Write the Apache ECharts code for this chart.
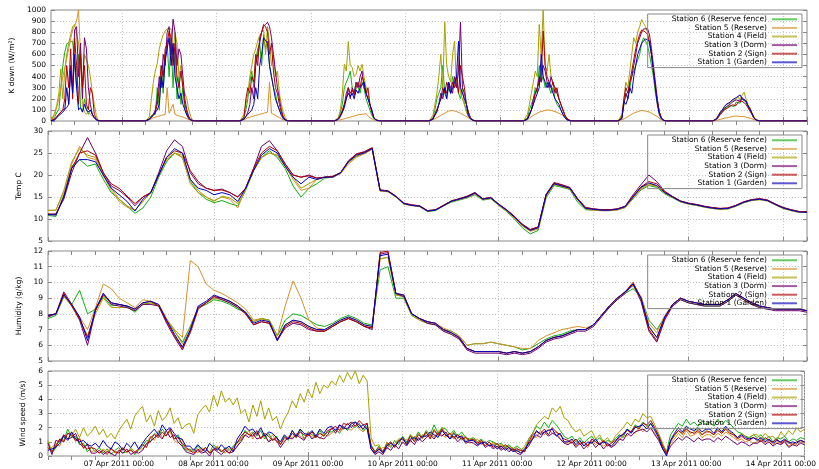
<!DOCTYPE html>
<html><head><meta charset="utf-8">
<script src="https://cdn.jsdelivr.net/npm/echarts@6/dist/echarts.min.js"></script>
<style>html,body{margin:0;padding:0;background:#fff}#c{width:819px;height:469px}</style>
</head><body><div id="c"></div>
<script>
const stations = ['Station 6 (Reserve fence)','Station 5 (Reserve)','Station 4 (Field)','Station 3 (Dorm)','Station 2 (Sign)','Station 1 (Garden)'];
const colors = ['#10b010','#d8902a','#a8a000','#700070','#b00000','#0000c0'];
const monthNames = ['Jan','Feb','Mar','Apr','May','Jun','Jul','Aug','Sep','Oct','Nov','Dec'];
const yNames = ['K down (W/m\u00b2)','Temp C','Humidity (g/kg)','Wind speed (m/s)'];
const yMin = [0,5,5,0], yMax = [1000,30,12,6], yStep = [100,5,1,1];

// K down: 8 days x 26 half-hour values (06:00 .. 18:30)
const kdS6 = [
0,5,40,80,100,300,500,620,690,710,720,720,730,300,600,120,80,200,100,60,100,60,30,10,0,0,
0,0,20,50,55,60,300,100,500,250,600,700,400,750,300,650,200,400,150,300,100,60,30,10,0,0,
0,0,30,100,200,350,450,300,550,650,700,500,780,650,720,500,400,300,250,150,100,60,30,10,0,0,
0,0,30,80,150,300,350,390,450,300,250,350,300,250,350,300,200,150,100,50,20,5,0,0,0,0,
0,0,30,100,200,250,300,500,250,200,300,250,400,300,350,250,200,300,150,100,50,20,5,0,0,0,
0,0,30,100,150,200,300,250,500,350,400,300,350,300,250,300,200,150,150,100,60,30,10,0,0,0,
0,0,40,150,250,200,300,400,450,500,510,600,700,750,720,680,600,500,400,250,150,60,20,5,0,0,
0,0,15,40,60,80,100,120,110,140,150,130,170,180,160,200,190,170,130,100,70,30,10,0,0,0];
const kdS5 = [
0,10,60,130,200,300,400,480,560,650,740,820,860,900,1000,600,150,80,60,90,60,40,30,15,5,0,
0,0,10,20,30,35,40,45,50,55,60,300,70,60,150,60,50,45,40,35,30,20,10,5,0,0,
0,0,10,20,30,35,40,45,50,55,60,65,70,75,80,350,70,60,50,40,30,20,10,5,0,0,
0,0,5,10,15,20,25,30,35,40,45,50,55,55,60,55,65,50,30,20,10,5,0,0,0,0,
0,0,10,20,30,40,50,60,70,80,90,100,95,90,85,80,70,60,50,40,30,20,10,5,0,0,
0,0,10,20,40,50,60,70,80,85,90,95,100,100,95,90,85,80,70,60,50,40,25,10,0,0,
0,0,10,20,30,40,50,60,70,80,85,90,95,100,90,85,80,70,60,50,40,25,10,5,0,0,
0,0,5,10,15,20,25,30,30,35,40,35,45,50,40,45,40,35,30,25,20,10,5,0,0,0];
const kdS4 = [
0,15,80,150,250,470,200,450,600,700,780,850,870,880,700,500,350,600,550,500,400,250,150,50,5,0,
0,0,40,200,350,450,520,650,720,780,810,830,840,830,600,800,700,400,500,300,250,200,100,40,0,0,
0,0,60,150,250,400,500,600,650,720,770,800,820,600,850,700,500,600,400,450,250,150,80,30,0,0,
0,0,30,100,250,510,450,715,500,480,400,420,500,450,510,400,300,250,150,80,30,10,0,0,0,0,
0,0,50,150,250,400,600,300,890,500,400,350,600,720,300,500,250,200,150,80,40,20,5,0,0,0,
0,0,60,150,250,350,450,400,870,600,1000,500,450,600,400,350,300,250,200,150,100,60,30,10,0,0,
0,0,60,200,350,300,450,600,750,700,800,850,915,880,850,800,700,600,450,300,180,80,30,10,0,0,
0,0,20,50,80,100,120,150,140,160,180,170,200,220,190,230,260,200,150,120,80,40,15,5,0,0];
const kdS3 = [
0,0,20,40,60,80,100,100,120,150,500,300,820,850,400,700,200,750,650,300,150,60,30,10,0,0,
0,0,20,40,60,100,200,400,300,600,500,800,850,600,918,800,500,650,600,400,200,100,40,10,0,0,
0,0,20,40,80,150,300,200,500,600,700,800,850,870,890,850,750,600,450,300,200,100,40,10,0,0,
0,0,20,50,80,150,250,300,200,300,250,350,300,400,450,300,250,200,150,80,30,10,0,0,0,0,
0,0,20,60,100,150,250,200,300,250,350,300,250,400,300,450,890,300,250,150,80,30,10,0,0,0,
0,0,20,60,100,200,250,300,400,350,500,450,350,300,400,330,300,250,200,150,100,50,20,5,0,0,
0,0,30,150,250,200,350,400,500,600,700,750,800,830,820,830,780,650,500,350,200,80,30,5,0,0,
0,0,15,40,70,90,110,130,120,150,170,160,190,200,180,210,200,180,140,110,70,30,10,0,0,0];
const kdS2 = [
0,0,20,40,60,80,100,200,500,300,650,200,750,500,150,600,300,500,150,100,300,250,60,20,0,0,
0,0,20,40,60,80,150,300,500,400,650,700,810,750,500,700,400,300,450,300,150,80,30,10,0,0,
0,0,30,200,300,250,400,350,600,500,750,800,870,850,800,600,700,450,300,250,150,80,30,10,0,0,
0,0,20,50,100,150,200,300,250,280,230,300,350,300,400,350,250,300,150,80,30,10,0,0,0,0,
0,0,20,60,100,150,200,300,250,350,300,250,350,300,400,250,500,400,300,150,80,30,10,0,0,0,
0,0,20,60,100,150,250,300,350,400,810,500,400,350,300,350,250,300,200,150,100,50,20,5,0,0,
0,0,30,200,300,250,350,450,550,650,720,780,820,830,800,780,700,600,450,300,180,80,30,5,0,0,
0,0,15,35,60,80,100,110,120,130,145,150,140,170,160,180,170,150,120,90,60,25,10,0,0,0];
const kdS1 = [
0,0,10,30,50,60,80,100,300,150,450,250,600,300,100,120,80,150,100,80,100,60,30,10,0,0,
0,0,15,30,50,80,100,150,400,300,550,650,750,500,700,400,300,200,250,150,100,50,20,5,0,0,
0,0,15,40,60,80,100,150,300,200,500,600,750,760,700,500,400,300,200,150,100,50,20,5,0,0,
0,0,15,40,80,120,200,250,220,250,200,280,250,300,300,350,250,200,145,100,30,10,0,0,0,0,
0,0,15,50,80,150,200,250,300,200,350,250,300,350,400,720,300,250,200,150,50,20,5,0,0,0,
0,0,15,50,100,150,200,250,300,600,400,350,300,350,300,250,200,200,150,100,60,30,10,0,0,0,
0,0,20,175,150,200,300,250,400,500,600,650,700,720,740,750,720,600,450,300,150,60,20,5,0,0,
0,0,20,50,80,100,130,150,140,170,190,180,210,220,235,200,190,180,140,110,70,30,10,0,0,0];

// Temperature: 2-hourly from 06 Apr 06:00
const tS6 = [10.8,10.6,15.5,22.0,23.5,22.0,22.5,19.0,16.0,14.5,12.9,11.3,
12.5,15.0,19.5,23.0,25.0,24.0,18.5,16.0,14.5,13.7,14.2,13.5,
13.0,16.5,21.0,24.0,25.5,24.0,21.5,17.5,15.0,17.0,18.0,19.3,
19.5,20.3,23.0,24.3,25.0,26.0,16.4,16.2,15.0,13.4,13.1,12.8,
11.7,11.9,12.9,13.8,14.3,14.8,15.5,14.3,14.6,13.1,11.7,10.0,
8.0,6.6,7.4,14.8,17.6,17.2,16.7,13.8,12.1,12.0,11.9,11.9,
12.1,12.6,14.6,16.6,17.6,17.2,15.7,14.8,13.9,13.4,13.1,12.7,
12.4,12.2,12.3,12.9,13.7,14.2,14.4,14.1,13.2,12.4,11.9,11.5,11.5];
const tS5 = [11.9,12.0,16.0,22.5,26.5,24.0,23.5,19.8,16.5,14.0,12.7,12.0,
14.0,16.0,20.0,23.5,25.0,24.0,18.0,16.0,15.0,14.2,15.0,14.5,
12.5,17.0,21.0,24.0,25.0,24.5,22.0,19.0,16.5,17.0,19.0,19.5,
19.5,20.3,22.5,24.0,24.8,25.8,16.3,16.2,15.0,13.4,13.0,12.9,
11.8,12.0,13.0,14.0,14.4,14.9,15.7,14.4,14.7,13.2,11.8,10.2,
8.4,7.2,7.7,15.2,17.8,17.4,16.8,14.3,12.3,12.0,11.9,11.9,
12.0,12.6,14.8,16.8,17.8,17.4,15.9,14.9,13.9,13.4,13.1,12.7,
12.4,12.2,12.3,12.9,13.7,14.2,14.4,14.1,13.2,12.4,11.9,11.5,11.5];
const tS4 = [12.0,12.0,16.5,23.0,26.0,24.5,24.0,20.0,17.0,14.5,13.0,12.0,
14.0,16.0,20.0,23.5,25.0,24.5,19.0,16.5,15.0,14.0,15.2,14.8,
13.5,17.0,21.0,24.0,25.0,24.5,22.0,19.5,17.0,18.0,19.0,19.5,
19.5,20.5,22.8,24.2,25.0,26.0,16.5,16.3,15.0,13.5,13.1,12.9,
11.8,12.0,13.0,14.0,14.5,15.0,15.8,14.5,14.8,13.3,12.0,10.5,
8.7,7.4,8.0,15.5,18.0,17.5,17.0,14.5,12.5,12.2,12.0,12.0,
12.2,12.8,15.0,17.0,18.0,17.5,16.0,15.0,14.0,13.5,13.2,12.8,
12.5,12.3,12.4,13.0,13.8,14.3,14.5,14.2,13.3,12.5,12.0,11.6,11.6];
const tS3 = [11.0,11.2,14.5,20.5,25.0,28.5,25.0,20.5,17.5,16.5,15.0,13.0,
15.0,16.0,20.5,25.5,28.0,26.5,20.5,18.0,17.0,16.5,16.8,16.0,
15.0,17.0,21.5,26.5,27.8,25.5,22.5,20.0,19.5,20.0,19.3,19.5,
19.7,20.5,23.2,24.8,25.3,26.2,16.6,16.4,15.2,13.6,13.2,13.0,
11.9,12.1,13.1,14.1,14.6,15.2,16.0,14.6,14.9,13.4,12.1,10.6,
8.8,7.6,8.2,15.6,18.3,17.8,17.2,14.6,12.6,12.3,12.1,12.1,
12.3,12.9,15.5,17.8,20.0,18.5,16.3,15.1,14.1,13.6,13.3,12.9,
12.6,12.4,12.5,13.1,13.9,14.4,14.6,14.3,13.4,12.6,12.1,11.7,11.6];
const tS2 = [11.2,11.0,15.0,21.5,25.0,25.5,24.5,20.5,18.0,17.0,15.2,13.5,
15.0,16.0,20.0,24.0,25.5,25.0,21.0,18.5,17.0,16.5,16.6,16.0,
15.0,17.0,21.5,25.0,26.5,25.5,22.5,20.0,19.5,19.8,19.3,19.5,
19.7,20.5,23.2,24.7,25.2,26.2,16.6,16.4,15.2,13.6,13.2,13.0,
11.9,12.1,13.1,14.1,14.6,15.1,16.0,14.6,14.9,13.4,12.1,10.6,
8.8,7.6,8.2,15.6,18.2,17.7,17.1,14.6,12.6,12.3,12.1,12.1,
12.3,12.9,15.2,17.3,18.5,18.0,16.2,15.1,14.1,13.6,13.3,12.9,
12.6,12.4,12.5,13.1,13.9,14.4,14.6,14.3,13.4,12.6,12.1,11.7,11.6];
const tS1 = [11.0,10.9,15.0,21.5,23.5,23.5,23.0,20.0,17.0,15.5,14.0,11.8,
14.5,16.0,20.0,24.0,26.0,25.0,19.0,17.0,16.5,15.5,16.0,15.5,
14.0,17.0,21.0,24.5,26.0,25.0,22.0,19.5,18.0,19.5,19.0,19.5,
19.5,20.5,23.0,24.5,25.0,26.0,16.5,16.3,15.1,13.5,13.1,12.9,
11.8,12.0,13.0,14.0,14.5,15.0,15.9,14.5,14.8,13.3,12.0,10.4,
8.6,7.4,8.0,15.4,18.0,17.5,17.0,14.4,12.4,12.2,12.0,12.0,
12.2,12.8,15.0,17.2,18.2,17.6,16.0,15.0,14.0,13.5,13.2,12.8,
12.5,12.3,12.4,13.0,13.8,14.3,14.5,14.2,13.3,12.5,12.0,11.6,11.5];

// Humidity: 2-hourly from 06 Apr 06:00
const hS6 = [7.7,7.9,9.1,8.6,9.5,8.0,8.3,9.1,8.5,8.6,8.45,8.1,
8.6,8.7,8.5,7.6,6.9,6.2,7.2,8.4,8.6,8.9,8.8,8.6,
8.3,8.1,7.5,7.7,7.6,6.6,7.6,8.0,7.9,7.6,7.3,7.2,
7.4,7.7,7.9,7.7,7.4,7.3,10.8,11.0,9.0,9.0,7.9,7.6,
7.4,7.3,7.0,6.9,6.6,6.0,6.1,6.1,6.2,6.1,6.0,5.9,
5.7,5.8,6.1,6.4,6.6,6.7,6.9,7.0,7.0,7.3,7.9,8.4,
8.9,9.3,9.6,9.1,7.6,7.0,7.8,8.5,8.9,8.7,8.6,8.5,
8.5,8.5,8.8,9.2,8.9,8.6,8.4,8.3,8.3,8.3,8.3,8.3,8.2];
const hS5 = [7.9,8.0,9.2,8.6,7.8,7.0,8.4,9.9,9.6,9.0,8.7,8.4,
8.9,8.8,8.6,7.7,7.0,6.5,11.4,11.0,9.9,9.5,9.3,9.0,
8.7,8.3,7.6,7.7,7.5,6.6,8.5,10.1,9.0,7.6,7.1,7.0,
7.3,7.6,7.8,7.6,7.3,7.2,11.5,11.6,9.2,9.1,8.0,7.7,
7.5,7.4,7.1,6.9,6.6,6.0,6.1,6.1,6.2,6.1,6.0,5.9,
5.8,5.8,6.3,6.6,6.8,7.0,7.1,7.2,7.1,7.3,7.9,8.5,
9.0,9.4,9.8,9.1,7.4,6.8,7.9,8.6,9.0,8.8,8.7,8.6,
8.6,8.6,8.9,9.3,9.0,8.7,8.5,8.4,8.3,8.3,8.3,8.3,8.2];
const hS4 = [7.9,8.0,9.1,8.5,7.6,6.6,8.0,9.0,8.4,8.4,8.4,8.2,
8.6,8.7,8.5,7.6,6.9,6.1,7.2,8.4,8.7,9.0,8.9,8.7,
8.4,8.1,7.5,7.7,7.6,6.6,7.3,7.6,7.5,7.2,7.0,6.9,
7.2,7.5,7.7,7.5,7.2,7.1,11.5,11.6,9.2,9.1,7.9,7.6,
7.4,7.3,6.9,6.7,6.4,5.8,5.6,5.6,5.6,5.6,5.5,5.6,
5.5,5.6,5.9,6.3,6.5,6.6,6.8,7.0,7.0,7.3,7.9,8.5,
9.0,9.4,9.8,8.9,7.1,6.5,7.8,8.6,9.0,8.8,8.7,8.6,
8.6,8.6,8.9,9.2,8.9,8.6,8.5,8.4,8.3,8.3,8.3,8.3,8.2];
const hS3 = [7.8,8.0,9.4,8.6,7.6,6.0,8.2,9.3,8.6,8.5,8.4,8.2,
8.6,8.6,8.5,7.4,6.5,5.7,6.9,8.4,8.7,9.1,8.9,8.7,
8.4,8.0,7.3,7.5,7.4,6.3,7.1,7.4,7.3,7.0,6.9,6.9,
7.2,7.5,7.7,7.5,7.2,7.0,11.8,11.9,9.3,9.1,8.0,7.7,
7.4,7.3,6.9,6.7,6.4,5.7,5.5,5.5,5.5,5.5,5.4,5.5,
5.4,5.5,5.8,6.2,6.4,6.5,6.7,6.9,6.9,7.2,7.8,8.4,
8.9,9.3,9.9,8.8,6.9,6.2,7.6,8.5,8.9,8.7,8.6,8.5,
8.5,8.5,8.8,9.2,8.9,8.6,8.4,8.3,8.2,8.2,8.2,8.2,8.1];
const hS2 = [7.9,8.0,9.3,8.5,7.7,6.5,8.2,9.2,8.7,8.6,8.5,8.3,
8.7,8.8,8.5,7.5,6.6,5.8,6.8,8.3,8.7,9.1,9.0,8.8,
8.5,8.0,7.3,7.5,7.4,6.4,7.2,7.5,7.4,7.1,6.9,6.9,
7.2,7.5,7.7,7.5,7.2,7.1,11.9,12.0,9.3,9.2,8.0,7.7,
7.5,7.4,7.0,6.8,6.5,5.8,5.6,5.6,5.6,5.6,5.5,5.6,
5.5,5.6,5.9,6.3,6.5,6.6,6.8,7.0,7.0,7.3,7.9,8.5,
9.0,9.4,10.0,9.0,7.0,6.3,7.7,8.6,9.0,8.8,8.7,8.6,
8.6,8.6,8.9,9.3,9.0,8.7,8.5,8.4,8.3,8.3,8.3,8.3,8.2];
const hS1 = [7.9,8.0,9.2,8.6,7.8,6.3,8.3,9.3,8.7,8.6,8.5,8.3,
8.7,8.8,8.6,7.6,6.7,5.9,7.0,8.5,8.8,9.2,9.0,8.8,
8.5,8.1,7.4,7.6,7.5,6.3,7.3,7.6,7.5,7.2,7.0,7.0,
7.3,7.6,7.8,7.6,7.3,7.2,11.7,11.8,9.3,9.2,8.0,7.7,
7.5,7.4,7.0,6.8,6.5,5.8,5.6,5.6,5.6,5.6,5.5,5.6,
5.5,5.6,5.9,6.3,6.5,6.6,6.8,7.0,7.0,7.3,7.9,8.5,
9.0,9.4,9.9,9.0,7.2,6.5,7.8,8.6,9.0,8.8,8.7,8.6,
8.6,8.6,8.9,9.3,9.0,8.7,8.5,8.4,8.3,8.3,8.3,8.3,8.2];

// Wind speed: hourly from 06 Apr 06:00
const wS6 = [1.0,0.2,0.6,1.2,1.1,1.9,1.3,1.4,0.8,0.9,0.3,0.6,
0.3,0.6,0.2,0.5,0.1,0.4,0.6,0.2,0.3,0.5,0.1,0.4,
0.7,1.1,1.0,1.6,1.4,1.9,1.5,1.8,1.2,1.5,0.8,0.4,
0.5,0.3,0.7,0.4,0.6,0.2,0.8,0.5,0.3,0.6,0.4,0.7,
1.0,1.1,1.8,1.5,1.7,1.4,1.8,1.2,1.6,1.1,1.4,0.8,
1.4,1.1,1.8,1.3,1.9,1.2,1.7,1.5,1.3,1.8,1.4,1.7,
1.7,1.9,1.6,2.1,1.8,2.2,2.0,2.3,1.8,2.1,0.8,0.3,
0.7,0.3,0.9,0.6,1.1,0.8,1.4,1.0,1.5,1.2,1.7,1.3,
1.8,1.5,2.2,1.6,2.0,1.9,1.5,1.8,1.4,1.7,1.3,1.2,
1.3,1.0,1.2,0.9,1.1,1.0,0.8,0.9,0.6,0.8,0.5,0.7,
0.5,0.3,1.2,1.6,2.1,1.9,2.4,2.0,2.5,2.2,1.8,1.4,
1.2,1.4,1.0,1.3,0.9,1.2,1.4,1.0,1.3,0.9,1.1,1.0,
1.2,1.5,1.3,1.9,1.7,2.2,2.0,2.4,2.1,2.3,1.9,1.5,
0.8,0.3,1.5,1.9,2.3,2.1,2.6,2.2,2.4,2.1,2.5,2.2,
2.4,2.1,2.6,2.2,2.5,2.3,2.0,1.7,1.6,1.4,1.3,1.5,
1.3,1.5,1.1,1.4,1.0,1.3,1.2,1.4,1.0,1.2,1.1,1.3,1.2];
const wS5 = [0.5,0.6,0.9,0.7,1.5,1.2,1.7,1.0,1.3,0.5,0.9,0.3,
0.4,0.2,0.5,0.3,0.6,0.2,0.4,0.5,0.2,0.6,0.3,0.5,
0.5,0.8,1.4,1.1,1.8,1.3,1.5,1.7,1.1,0.9,1.2,0.5,
0.3,0.5,0.2,0.6,0.4,0.3,0.5,0.7,0.4,0.2,0.6,0.4,
0.6,1.3,1.4,1.8,1.2,1.7,1.3,1.4,1.0,1.5,1.0,0.9,
1.1,1.4,1.3,1.6,1.4,1.2,1.7,1.3,1.5,1.2,1.6,1.4,
1.6,1.8,1.7,1.9,2.0,1.8,2.2,1.9,1.7,2.0,0.7,0.2,
0.4,0.6,0.5,0.9,0.7,1.1,0.9,1.2,1.0,1.4,1.1,1.5,
1.4,1.6,1.3,1.8,1.5,1.3,1.6,1.2,1.5,1.1,1.4,0.9,
1.0,1.2,0.8,1.0,0.7,0.9,0.6,0.8,0.5,0.7,0.4,0.6,
0.2,0.6,0.8,1.4,1.3,1.8,1.5,1.9,1.6,1.7,1.2,1.0,
0.9,1.1,0.7,1.0,0.8,0.6,1.1,0.8,1.0,0.7,0.9,0.6,
0.9,1.1,1.5,1.4,1.8,1.6,2.0,1.7,2.1,1.9,1.6,1.2,
0.6,0.2,0.9,1.2,1.6,1.3,1.8,1.4,1.5,1.7,1.3,1.5,
1.5,1.3,1.6,1.4,1.7,1.5,1.3,1.1,1.2,1.0,1.1,0.9,
1.0,1.2,0.9,1.1,0.8,1.0,0.9,1.1,0.7,0.9,0.8,1.0,0.9];
const wS4 = [1.1,0.3,0.8,1.2,1.0,1.6,1.4,1.9,1.3,2.0,1.4,1.7,
2.1,1.5,1.9,1.3,1.6,1.2,1.8,2.2,2.6,1.9,2.8,3.2,
3.5,2.4,2.9,2.1,3.2,2.5,2.8,3.4,2.3,2.7,1.9,2.2,
2.3,1.6,2.9,3.3,3.6,3.1,4.3,3.5,4.6,3.8,4.1,3.6,
4.1,3.0,3.3,2.4,3.6,2.8,3.9,2.6,3.4,2.5,2.8,1.9,
2.6,3.1,3.9,3.4,4.4,3.8,4.7,4.1,5.2,4.4,5.0,4.8,
5.3,5.0,5.7,5.2,5.9,5.4,6.0,5.1,5.7,5.3,1.3,0.7,
0.8,0.2,1.0,0.7,0.9,1.2,1.3,0.8,1.5,1.1,1.6,1.2,
1.6,1.3,1.9,1.4,2.0,1.6,1.3,1.7,1.2,1.5,1.1,1.2,
1.2,0.8,1.1,0.9,0.7,1.0,0.6,0.8,0.7,0.4,0.6,0.3,
0.4,0.7,1.2,1.6,2.2,2.5,2.8,2.6,3.4,3.1,3.5,2.7,
2.5,2.0,1.7,1.9,1.4,1.6,1.8,1.2,1.5,1.0,1.3,0.9,
1.4,1.7,2.0,2.4,2.1,2.6,2.4,3.0,2.7,2.8,2.2,1.6,
0.9,0.3,1.1,1.4,1.8,1.5,2.0,1.6,1.7,1.9,1.5,1.8,
1.7,1.5,1.9,1.6,2.0,1.7,1.5,1.3,1.6,1.4,1.2,1.5,
1.5,1.2,1.6,1.3,1.4,1.1,1.7,1.4,1.8,1.5,2.0,1.7,1.9];
const wS3 = [0.9,0.1,1.1,1.0,1.5,1.2,1.3,1.6,0.9,0.6,0.8,0.2,
0.2,0.4,0.1,0.3,0.2,0.0,0.4,0.2,0.5,0.1,0.3,0.2,
0.4,0.9,1.0,1.3,1.5,1.2,1.8,1.3,1.5,1.0,0.7,0.3,
0.2,0.1,0.4,0.2,0.3,0.0,0.5,0.3,0.1,0.4,0.2,0.3,
0.7,1.0,1.5,1.3,1.6,1.2,1.3,1.5,1.0,1.2,1.1,0.6,
1.0,1.3,1.2,1.5,1.3,1.1,1.6,1.2,1.4,1.3,1.2,1.5,
2.0,1.6,2.2,1.9,2.3,2.0,2.4,2.2,1.9,2.3,0.5,0.1,
0.3,0.1,0.6,0.4,0.8,0.5,1.0,0.7,1.1,0.8,1.3,1.0,
1.3,1.5,1.2,1.6,1.4,1.7,1.2,1.4,1.0,1.3,0.9,1.0,
0.9,0.7,1.0,0.6,0.8,0.5,0.7,0.4,0.6,0.3,0.5,0.2,
0.1,0.4,0.7,1.2,1.5,1.3,1.7,1.4,1.6,1.5,1.2,0.9,
0.8,1.0,0.6,0.9,0.5,0.8,1.0,0.6,0.9,0.5,0.8,0.6,
0.8,1.2,1.1,1.6,1.4,1.7,1.8,1.9,1.7,2.0,1.5,1.1,
0.5,0.1,0.7,1.0,1.3,1.1,1.4,1.2,1.0,1.3,1.1,1.2,
1.2,1.0,1.3,1.1,1.4,1.2,1.0,0.8,1.0,0.9,0.7,0.9,
0.9,1.1,0.8,1.0,0.7,0.9,0.8,1.0,0.6,0.8,0.7,0.9,0.8];
const wS2 = [0.6,0.3,0.7,1.2,1.0,1.6,1.5,1.1,1.2,0.7,0.5,0.6,
0.5,0.2,0.4,0.1,0.5,0.3,0.2,0.6,0.3,0.4,0.2,0.5,
0.8,0.6,1.3,1.5,1.3,1.7,1.4,1.9,1.2,1.3,0.9,0.6,
0.4,0.2,0.5,0.3,0.6,0.2,0.4,0.6,0.3,0.5,0.2,0.6,
0.9,1.4,1.7,1.5,1.4,1.8,1.2,1.6,1.4,1.1,1.3,0.8,
1.3,1.2,1.6,1.3,1.7,1.5,1.4,1.7,1.3,1.6,1.4,1.8,
1.9,2.1,1.8,2.3,2.2,2.4,2.1,2.5,2.2,2.3,0.7,0.3,
0.6,0.3,0.8,1.0,0.6,1.1,1.2,0.9,1.4,1.0,1.5,1.3,
1.7,1.2,1.8,1.5,1.9,1.4,1.6,1.3,1.5,1.2,1.3,1.1,
1.2,0.9,1.1,0.7,1.0,0.6,0.9,0.5,0.8,0.6,0.4,0.5,
0.4,0.3,1.0,1.5,1.7,1.6,1.9,1.5,2.0,1.7,1.5,1.2,
1.1,0.9,1.2,0.8,1.0,0.7,1.2,1.0,0.8,1.1,0.7,0.9,
1.1,1.3,1.6,1.8,1.7,2.1,1.9,2.3,2.2,2.5,2.0,1.4,
0.7,0.2,1.0,1.5,1.8,1.6,1.9,1.7,1.6,1.8,1.5,1.7,
1.7,1.5,1.8,1.6,1.9,1.6,1.5,1.2,1.4,1.2,1.1,1.3,
1.2,1.0,1.3,1.1,1.0,1.2,0.9,1.1,1.0,0.8,1.0,1.1,1.0];
const wS1 = [0.4,0.5,0.6,0.9,1.4,1.1,1.7,1.2,1.0,1.1,0.8,0.7,
0.9,0.6,1.1,0.7,0.5,1.0,0.8,0.4,0.9,0.6,1.0,0.5,
0.9,1.3,1.6,1.9,1.5,2.2,1.8,2.0,1.6,1.3,1.2,0.7,
0.7,0.4,0.8,0.5,0.3,0.9,0.6,0.4,0.8,0.5,0.7,0.3,
1.2,1.6,2.1,1.8,1.9,1.5,2.0,1.4,1.7,1.6,1.3,1.0,
1.5,1.2,1.8,1.4,1.9,1.6,1.5,1.8,1.4,1.9,1.6,2.0,
2.1,1.8,2.2,2.0,1.9,2.3,2.4,2.0,2.2,1.9,0.5,0.2,
0.5,0.2,0.7,0.9,0.7,1.0,1.3,0.8,1.2,1.3,1.1,1.4,
1.4,1.7,1.5,1.3,1.8,1.5,1.2,1.6,1.3,1.4,1.0,1.1,
1.1,0.8,0.9,1.0,0.7,0.8,0.5,0.7,0.4,0.6,0.3,0.4,
0.2,0.5,0.9,1.2,1.8,1.5,1.7,1.8,1.9,1.4,1.6,1.0,
1.0,1.2,0.8,1.1,0.7,1.0,0.9,1.2,0.8,1.0,0.9,0.7,
1.0,1.4,1.5,1.9,1.6,2.0,2.1,2.2,1.9,2.3,1.8,1.3,
0.5,0.0,1.1,1.6,2.0,1.7,2.1,1.9,1.8,2.0,1.7,1.9,
1.9,1.6,2.0,1.7,2.1,1.8,1.6,1.3,1.5,1.3,1.2,1.3,
1.1,1.3,1.0,1.2,0.9,1.1,1.0,1.2,0.9,1.0,0.9,1.1,1.0];

const HOUR = 3600000;
const T0 = Date.UTC(2011, 3, 6, 6);
const T1 = Date.UTC(2011, 3, 14, 6);

function kdSeries(vals) {
  const out = [];
  for (let d = 0; d < 8; d++) for (let j = 0; j < 26; j++) out.push([T0 + d * 24 * HOUR + j * HOUR / 2, vals[d * 26 + j]]);
  out.push([T1, 0]);
  return out;
}
function regular(vals, stepH) { return vals.map((v, i) => [T0 + i * stepH * HOUR, v]); }

const panels = [
  { sets: [kdS6, kdS5, kdS4, kdS3, kdS2, kdS1], build: kdSeries },
  { sets: [tS6, tS5, tS4, tS3, tS2, tS1], build: v => regular(v, 2) },
  { sets: [hS6, hS5, hS4, hS3, hS2, hS1], build: v => regular(v, 2) },
  { sets: [wS6, wS5, wS4, wS3, wS2, wS1], build: v => regular(v, 1) }
];
const tops = [10, 131, 251, 371], heights = [111, 110, 110, 85];
const nameGaps = [34, 24, 23, 21];
const FONT = 'DejaVu Sans';
const frame = '#888';

const grid = [], xAxis = [], yAxis = [], legend = [], series = [];
for (let g = 0; g < 4; g++) {
  grid.push({ left: 48, right: 12, top: tops[g], height: heights[g], show: true, borderColor: frame, borderWidth: 1, backgroundColor: 'transparent' });
  xAxis.push({
    type: 'time', gridIndex: g, min: T0, max: T1, position: 'bottom',
    minInterval: 24 * HOUR, maxInterval: 24 * HOUR, splitNumber: 8,
    axisLine: { show: false },
    axisTick: { show: true, inside: true, length: 4, lineStyle: { color: frame } },
    axisLabel: {
      show: g === 3, fontSize: 7.5, color: '#000', fontFamily: FONT, margin: 4,
      showMinLabel: false, showMaxLabel: false, hideOverlap: false,
      formatter: function (v) {
        const d = new Date(v);
        if (d.getUTCHours() !== 0) return '';
        return String(d.getUTCDate()).padStart(2, '0') + ' ' + monthNames[d.getUTCMonth()] + ' ' + d.getUTCFullYear() + ' 00:00';
      }
    },
    splitLine: { show: true, lineStyle: { color: '#c4c4c4', type: [1, 2], width: 1 } }
  });
  xAxis.push({
    type: 'time', gridIndex: g, min: T0, max: T1, position: 'top',
    minInterval: 12 * HOUR, maxInterval: 12 * HOUR, splitNumber: 16,
    axisLine: { show: false },
    axisTick: { show: true, inside: true, length: 4, lineStyle: { color: frame } },
    axisLabel: { show: false }, splitLine: { show: false }
  });
  yAxis.push({
    type: 'value', gridIndex: g, min: yMin[g], max: yMax[g], interval: yStep[g], position: 'left',
    name: yNames[g], nameLocation: 'middle', nameGap: nameGaps[g],
    nameTextStyle: { fontSize: 7.5, color: '#000', fontFamily: FONT },
    axisLine: { show: false },
    axisTick: { show: true, inside: true, length: 4, lineStyle: { color: frame } },
    axisLabel: { fontSize: 7.5, color: '#000', fontFamily: FONT, margin: 5, formatter: v => String(v) },
    splitLine: { show: true, lineStyle: { color: '#c4c4c4', type: [1, 2], width: 1 } }
  });
  yAxis.push({
    type: 'value', gridIndex: g, min: yMin[g], max: yMax[g], interval: yStep[g], position: 'right',
    axisLine: { show: false },
    axisTick: { show: true, inside: true, length: 4, lineStyle: { color: frame } },
    axisLabel: { show: false }, splitLine: { show: false }
  });
  legend.push({
    data: stations, orient: 'vertical', right: 17, top: tops[g] + 4, align: 'right',
    icon: 'rect', itemWidth: 25, itemHeight: 2, itemGap: 0, padding: [1, 5, 1, 24],
    borderColor: frame, borderWidth: 1, backgroundColor: 'transparent', selectedMode: false,
    itemStyle: { opacity: 0.65 },
    textStyle: { fontSize: 7.5, lineHeight: 8.6, color: '#000', fontFamily: FONT }
  });
  panels[g].sets.forEach((vals, s) => {
    series.push({
      type: 'line', name: stations[s], xAxisIndex: 2 * g, yAxisIndex: 2 * g,
      data: panels[g].build(vals), showSymbol: false, symbol: 'none', silent: true,
      color: colors[s], lineStyle: { width: 1, color: colors[s] }, animation: false
    });
  });
}

const chart = echarts.init(document.getElementById('c'), null, { renderer: 'canvas' });
chart.setOption({
  useUTC: true, animation: false, backgroundColor: '#fff',
  textStyle: { fontFamily: FONT },
  grid, xAxis, yAxis, legend, series
});
</script>
</body></html>
